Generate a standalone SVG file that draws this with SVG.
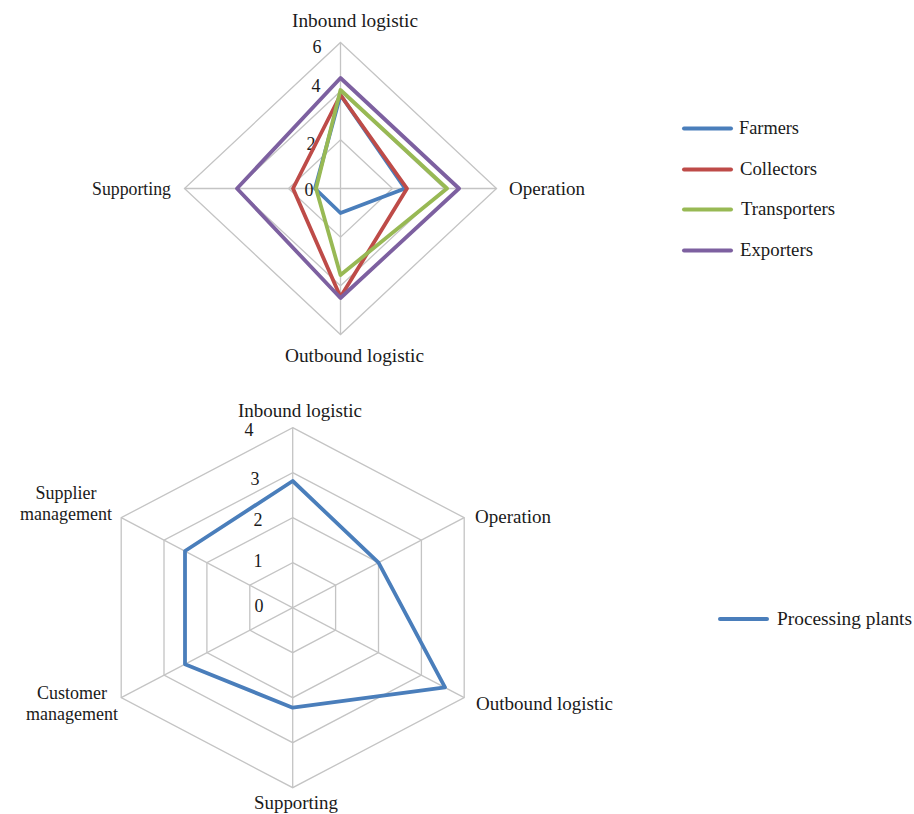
<svg xmlns="http://www.w3.org/2000/svg" width="914" height="814" viewBox="0 0 914 814">
<style>
text{font-family:"Liberation Serif","Times New Roman",serif;font-size:18px;fill:#1a1a1a}
.grid{fill:none;stroke:#c4c4c4;stroke-width:1.3}
.s{fill:none;stroke-width:3.8;stroke-linejoin:round}
.lg{stroke-width:4;stroke-linecap:round}
.blue{stroke:#4a7ebb}.red{stroke:#be4b48}.green{stroke:#98b954}.purple{stroke:#7d60a0}
.m{text-anchor:middle}.e{text-anchor:end}
</style>
<rect width="914" height="814" fill="#fff"/>

<g id="chart1">
  <g id="grid1">
    <polygon class="grid" points="340.5,42.5 496.5,188.5 340.5,334.5 184.5,188.5"/>
    <polygon class="grid" points="340.5,91.2 444.5,188.5 340.5,285.8 236.5,188.5"/>
    <polygon class="grid" points="340.5,139.8 392.5,188.5 340.5,237.2 288.5,188.5"/>
    <line class="grid" x1="340.5" y1="42.5" x2="340.5" y2="334.5"/>
    <line class="grid" x1="184.5" y1="188.5" x2="496.5" y2="188.5"/>
  </g>
  <g id="ticks1">
    <text class="m" x="317" y="53">6</text>
    <text class="m" x="316" y="92">4</text>
    <text class="m" x="311" y="150">2</text>
    <text class="m" x="309" y="196">0</text>
  </g>
  <g id="axislabels1">
    <text id="c1-inbound" x="292" y="27" textLength="126" lengthAdjust="spacingAndGlyphs">Inbound logistic</text>
    <text id="c1-operation" x="509" y="195" textLength="76" lengthAdjust="spacingAndGlyphs">Operation</text>
    <text id="c1-outbound" x="285" y="362" textLength="139" lengthAdjust="spacingAndGlyphs">Outbound logistic</text>
    <text id="c1-supporting" x="92" y="195" textLength="79" lengthAdjust="spacingAndGlyphs">Supporting</text>
  </g>
  <g id="series1">
    <polygon id="farmers" class="s blue" points="340.5,95 405,188.5 340.5,213 315,188.5"/>
    <polygon id="collectors" class="s red" points="340.5,95 407,188.5 340.5,297 293,188.5"/>
    <polygon id="transporters" class="s green" points="340.5,90 447,188.5 340.5,275 316,188.5"/>
    <polygon id="exporters" class="s purple" points="340.5,78 459,188.5 340.5,298 237,188.5"/>
  </g>
  <g id="legend1">
    <line class="lg blue" x1="684" y1="128.5" x2="731" y2="128.5"/>
    <text x="739" y="134" textLength="60" lengthAdjust="spacingAndGlyphs">Farmers</text>
    <line class="lg red" x1="684" y1="169.5" x2="731" y2="169.5"/>
    <text x="740" y="175" textLength="77" lengthAdjust="spacingAndGlyphs">Collectors</text>
    <line class="lg green" x1="684" y1="209.5" x2="731" y2="209.5"/>
    <text x="741" y="215" textLength="94" lengthAdjust="spacingAndGlyphs">Transporters</text>
    <line class="lg purple" x1="684" y1="250.5" x2="731" y2="250.5"/>
    <text x="740" y="256" textLength="73" lengthAdjust="spacingAndGlyphs">Exporters</text>
  </g>
</g>

<g id="chart2">
  <g id="grid2">
    <polygon class="grid" points="292.7,427.7 464.2,517.7 464.2,697.7 292.7,787.7 121.2,697.7 121.2,517.7"/>
    <polygon class="grid" points="292.7,472.7 421.4,540.2 421.4,675.2 292.7,742.7 164,675.2 164,540.2"/>
    <polygon class="grid" points="292.7,517.7 378.5,562.7 378.5,652.7 292.7,697.7 206.9,652.7 206.9,562.7"/>
    <polygon class="grid" points="292.7,562.7 335.6,585.2 335.6,630.2 292.7,652.7 249.8,630.2 249.8,585.2"/>
    <line class="grid" x1="292.7" y1="427.7" x2="292.7" y2="787.7"/>
    <line class="grid" x1="121.2" y1="517.7" x2="464.2" y2="697.7"/>
    <line class="grid" x1="121.2" y1="697.7" x2="464.2" y2="517.7"/>
  </g>
  <g id="ticks2">
    <text class="m" x="249" y="436">4</text>
    <text class="m" x="255" y="485">3</text>
    <text class="m" x="258" y="526">2</text>
    <text class="m" x="258" y="567">1</text>
    <text class="m" x="259" y="612">0</text>
  </g>
  <g id="axislabels2">
    <text id="c2-inbound" x="238" y="417" textLength="124" lengthAdjust="spacingAndGlyphs">Inbound logistic</text>
    <text id="c2-operation" x="475" y="523" textLength="76" lengthAdjust="spacingAndGlyphs">Operation</text>
    <text id="c2-outbound" x="476" y="710" textLength="137" lengthAdjust="spacingAndGlyphs">Outbound logistic</text>
    <text id="c2-supporting" x="254" y="809" textLength="84" lengthAdjust="spacingAndGlyphs">Supporting</text>
    <text id="c2-supplier" class="m"><tspan x="66" y="499">Supplier</tspan><tspan x="66" y="520">management</tspan></text>
    <text id="c2-customer" class="m"><tspan x="72" y="699">Customer</tspan><tspan x="72" y="720">management</tspan></text>
  </g>
  <g id="series2">
    <polygon id="processing" class="s blue" points="292.7,481 378.5,562.7 445,687.3 292.7,707.7 185,664.3 185,551"/>
  </g>
  <g id="legend2">
    <line class="lg blue" x1="720" y1="619" x2="767" y2="619"/>
    <text x="777" y="625" textLength="135" lengthAdjust="spacingAndGlyphs">Processing plants</text>
  </g>
</g>
</svg>
